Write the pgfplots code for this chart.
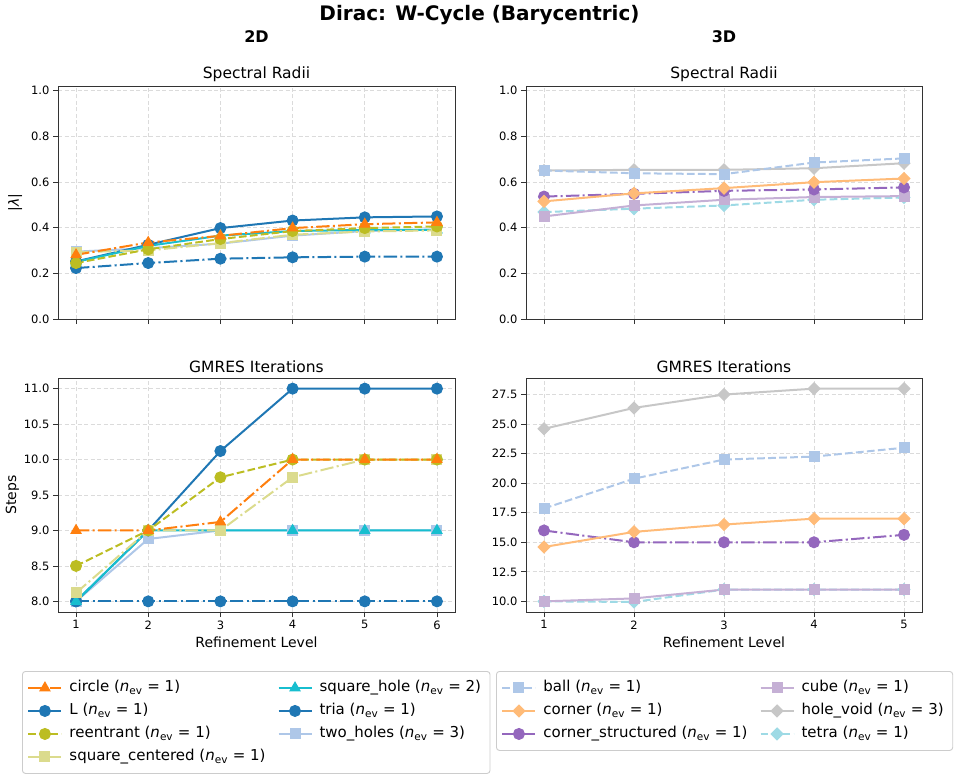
\documentclass[border=0pt]{standalone}
\usepackage{fontspec}
\setmainfont{DejaVu Sans}
\usepackage{pgfplots}
\pgfplotsset{compat=1.18}

% tab10 / tab20 palette
\definecolor{tabblue}{HTML}{1F77B4}
\definecolor{taborange}{HTML}{FF7F0E}
\definecolor{tabolive}{HTML}{BCBD22}
\definecolor{tabcyan}{HTML}{17BECF}
\definecolor{tabpurple}{HTML}{9467BD}
\definecolor{ltolive}{HTML}{DBDB8D}
\definecolor{ltblue}{HTML}{AEC7E8}
\definecolor{ltorange}{HTML}{FFBB78}
\definecolor{ltpurple}{HTML}{C5B0D5}
\definecolor{ltgray}{HTML}{C7C7C7}
\definecolor{ltcyan}{HTML}{9EDAE5}

\pgfplotsset{
  mpl dashed/.style={dash pattern=on 7.7pt off 3.3pt},
  mpl dashdot/.style={dash pattern=on 13.3pt off 3.3pt on 2.1pt off 3.3pt},
  base/.style={color=#1, line width=2pt},
  mk circ/.style={mark=*, mark size=5.5pt, mark options={solid, fill=#1, line width=1pt}},
  mk tri/.style={mark=triangle*, mark size=5.8pt, mark options={solid, fill=#1, line width=1pt}},
  mk sq/.style={mark=square*, mark size=5pt, mark options={solid, fill=#1, line width=1pt}},
  mk dia/.style={mark=square*, mark size=4.2pt, mark options={solid, fill=#1, rotate=45, line width=1pt}},
  % 2D meshes
  s circle/.style={base=taborange, mpl dashdot, mk tri=taborange},
  s L/.style={base=tabblue, solid, mk circ=tabblue},
  s reentrant/.style={base=tabolive, mpl dashed, mk circ=tabolive},
  s sqcentered/.style={base=ltolive, mpl dashdot, mk sq=ltolive},
  s sqhole/.style={base=tabcyan, solid, mk tri=tabcyan},
  s tria/.style={base=tabblue, mpl dashdot, mk circ=tabblue},
  s twoholes/.style={base=ltblue, solid, mk sq=ltblue},
  % 3D meshes
  s ball/.style={base=ltblue, mpl dashed, mk sq=ltblue},
  s corner/.style={base=ltorange, solid, mk dia=ltorange},
  s cornerstr/.style={base=tabpurple, mpl dashdot, mk circ=tabpurple},
  s cube/.style={base=ltpurple, solid, mk sq=ltpurple},
  s holevoid/.style={base=ltgray, solid, mk dia=ltgray},
  s tetra/.style={base=ltcyan, mpl dashed, mk dia=ltcyan},
  panel/.style={
    scale only axis,
    axis line style={black!80, line width=0.8pt},
    grid=major,
    grid style={black!14, line width=0.8pt, dash pattern=on 4pt off 2.5pt},
    tick align=outside, tick pos=left,
    major tick length=5pt,
    every tick/.style={black!80, line width=0.8pt},
    tick label style={font=\fontsize{11.5}{13}\selectfont},
    /pgf/number format/assume math mode=true,
    yticklabel style={/pgf/number format/.cd, fixed, fixed zerofill, precision=1},
    % the default title shift of 6pt is cancelled by the -6pt below
    title style={font=\fontsize{15.5}{18}\selectfont, at={(axis description cs:0.5,1.049)}, anchor=center, yshift=-6pt},
    label style={font=\fontsize{14}{16}\selectfont},
    xlabel style={at={(axis description cs:0.5,-0.13)}, anchor=center},
    clip=false,
  },
  legendbox/.style={
    scale only axis, width=1pt, height=1pt, hide axis,
    xmin=0, xmax=1, ymin=0, ymax=1,
    legend columns=2,
    legend cell align=left,
    legend image code/.code={\draw[mark repeat=2,mark phase=2] plot coordinates {(0pt,0pt)(16.5pt,0pt)(33pt,0pt)};},
    legend style={at={(0,1)}, anchor=north west,
      draw=black!20, line width=0.9pt, fill=white, rounded corners=3pt,
      font=\fontsize{15}{17}\selectfont,
      inner xsep=5pt, inner ysep=8.5pt,
      row sep=7pt,
      nodes={inner xsep=4pt, inner ysep=0pt, text height=12pt, text depth=4pt},
      /tikz/every odd column/.append style={column sep=3pt},
      /tikz/every even column/.append style={column sep=8pt}},
  },
}

\begin{document}
\begin{tikzpicture}
\useasboundingbox (0,0) rectangle (959pt,-782pt);

\node[font=\fontsize{20}{24}\selectfont\bfseries] at (479.5pt,-15.5pt) {Dirac: W-Cycle (Barycentric)};
\node[font=\fontsize{16}{19}\selectfont\bfseries] at (256.5pt,-37pt) {2D};
\node[font=\fontsize{16}{19}\selectfont\bfseries] at (724pt,-37pt) {3D};

% ---------- 2D: spectral radii ----------
\begin{axis}[panel, at={(58pt,-319pt)}, anchor=south west, width=397pt, height=233pt,
  xmin=0.75, xmax=6.25, ymin=0, ymax=1.02,
  xtick={1,2,3,4,5,6}, xticklabels={},
  ytick={0,0.2,0.4,0.6,0.8,1},
  title={Spectral Radii},
  ylabel={|\textit{λ}|},
  ylabel style={at={(axis description cs:-0.108,0.5)}, anchor=center}]
\addplot[s twoholes] coordinates {(1,0.295) (2,0.310) (3,0.330) (4,0.365) (5,0.385) (6,0.392)};
\addplot[s tria] coordinates {(1,0.223) (2,0.245) (3,0.264) (4,0.270) (5,0.273) (6,0.273)};
\addplot[s L] coordinates {(1,0.252) (2,0.325) (3,0.398) (4,0.431) (5,0.445) (6,0.449)};
\addplot[s sqhole] coordinates {(1,0.250) (2,0.320) (3,0.365) (4,0.385) (5,0.390) (6,0.390)};
\addplot[s sqcentered] coordinates {(1,0.293) (2,0.300) (3,0.332) (4,0.369) (5,0.383) (6,0.388)};
\addplot[s reentrant] coordinates {(1,0.245) (2,0.305) (3,0.350) (4,0.385) (5,0.398) (6,0.405)};
\addplot[s circle] coordinates {(1,0.281) (2,0.335) (3,0.364) (4,0.398) (5,0.415) (6,0.423)};
\end{axis}

% ---------- 2D: GMRES iterations ----------
\begin{axis}[panel, at={(58pt,-612pt)}, anchor=south west, width=397pt, height=234pt,
  xmin=0.75, xmax=6.25, ymin=7.85, ymax=11.15,
  xtick={1,2,3,4,5,6},
  ytick={8,8.5,9,9.5,10,10.5,11},
  title={GMRES Iterations},
  xlabel={Refinement Level}, ylabel={Steps},
  ylabel style={at={(axis description cs:-0.115,0.5)}, anchor=center}]
\addplot[s twoholes] coordinates {(1,8) (2,8.88) (3,9) (4,9) (5,9) (6,9)};
\addplot[s tria] coordinates {(1,8) (2,8) (3,8) (4,8) (5,8) (6,8)};
\addplot[s L] coordinates {(1,8) (2,9) (3,10.12) (4,11) (5,11) (6,11)};
\addplot[s sqhole] coordinates {(1,8) (2,9) (3,9) (4,9) (5,9) (6,9)};
\addplot[s sqcentered] coordinates {(1,8.12) (2,9) (3,9) (4,9.75) (5,10) (6,10)};
\addplot[s reentrant] coordinates {(1,8.5) (2,9) (3,9.75) (4,10) (5,10) (6,10)};
\addplot[s circle] coordinates {(1,9) (2,9) (3,9.12) (4,10) (5,10) (6,10)};
\end{axis}

% ---------- 3D: spectral radii ----------
\begin{axis}[panel, at={(526pt,-319pt)}, anchor=south west, width=396pt, height=233pt,
  xmin=0.8, xmax=5.2, ymin=0, ymax=1.02,
  xtick={1,2,3,4,5}, xticklabels={},
  ytick={0,0.2,0.4,0.6,0.8,1},
  title={Spectral Radii}]
\addplot[s tetra] coordinates {(1,0.468) (2,0.483) (3,0.497) (4,0.522) (5,0.532)};
\addplot[s holevoid] coordinates {(1,0.650) (2,0.653) (3,0.653) (4,0.660) (5,0.682)};
\addplot[s cube] coordinates {(1,0.449) (2,0.497) (3,0.522) (4,0.534) (5,0.538)};
\addplot[s cornerstr] coordinates {(1,0.536) (2,0.548) (3,0.561) (4,0.567) (5,0.576)};
\addplot[s corner] coordinates {(1,0.515) (2,0.550) (3,0.573) (4,0.599) (5,0.615)};
\addplot[s ball] coordinates {(1,0.650) (2,0.638) (3,0.634) (4,0.685) (5,0.703)};
\end{axis}

% ---------- 3D: GMRES iterations ----------
\begin{axis}[panel, at={(526pt,-612pt)}, anchor=south west, width=396pt, height=234pt,
  xmin=0.8, xmax=5.2, ymin=9.1, ymax=28.9,
  xtick={1,2,3,4,5},
  ytick={10,12.5,15,17.5,20,22.5,25,27.5},
  title={GMRES Iterations},
  xlabel={Refinement Level}]
\addplot[s tetra] coordinates {(1,10) (2,9.95) (3,11) (4,11) (5,11)};
\addplot[s holevoid] coordinates {(1,24.6) (2,26.37) (3,27.5) (4,28) (5,28)};
\addplot[s cube] coordinates {(1,10) (2,10.25) (3,11) (4,11) (5,11)};
\addplot[s cornerstr] coordinates {(1,16) (2,15) (3,15) (4,15) (5,15.63)};
\addplot[s corner] coordinates {(1,14.6) (2,15.88) (3,16.5) (4,17) (5,17)};
\addplot[s ball] coordinates {(1,17.86) (2,20.38) (3,22.0) (4,22.25) (5,23.0)};
\end{axis}

% ---------- legends ----------
\begin{axis}[legendbox, at={(22pt,-671pt)}, anchor=north west]
\addlegendimage{s circle}\addlegendentry{circle (\textit{n}\textsubscript{ev} = 1)}
\addlegendimage{s sqhole}\addlegendentry{square\_hole (\textit{n}\textsubscript{ev} = 2)}
\addlegendimage{s L}\addlegendentry{L (\textit{n}\textsubscript{ev} = 1)}
\addlegendimage{s tria}\addlegendentry{tria (\textit{n}\textsubscript{ev} = 1)}
\addlegendimage{s reentrant}\addlegendentry{reentrant (\textit{n}\textsubscript{ev} = 1)}
\addlegendimage{s twoholes}\addlegendentry{two\_holes (\textit{n}\textsubscript{ev} = 3)}
\addlegendimage{s sqcentered}\addlegendentry{square\_centered (\textit{n}\textsubscript{ev} = 1)}
\end{axis}

\begin{axis}[legendbox, at={(496pt,-671pt)}, anchor=north west]
\addlegendimage{s ball}\addlegendentry{ball (\textit{n}\textsubscript{ev} = 1)}
\addlegendimage{s cube}\addlegendentry{cube (\textit{n}\textsubscript{ev} = 1)}
\addlegendimage{s corner}\addlegendentry{corner (\textit{n}\textsubscript{ev} = 1)}
\addlegendimage{s holevoid}\addlegendentry{hole\_void (\textit{n}\textsubscript{ev} = 3)}
\addlegendimage{s cornerstr}\addlegendentry{corner\_structured (\textit{n}\textsubscript{ev} = 1)}
\addlegendimage{s tetra}\addlegendentry{tetra (\textit{n}\textsubscript{ev} = 1)}
\end{axis}
\end{tikzpicture}
\end{document}
